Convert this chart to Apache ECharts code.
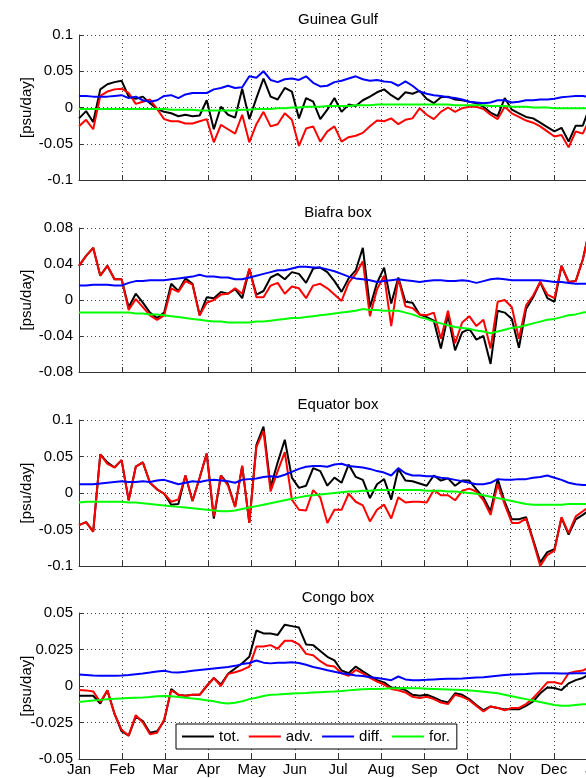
<!DOCTYPE html>
<html>
<head>
<meta charset="utf-8">
<script src="https://cdn.jsdelivr.net/npm/echarts@6/dist/echarts.min.js"></script>
<style>
  html, body { margin: 0; padding: 0; background: #fff; }
  #chart { width: 586px; height: 778px; }
</style>
</head>
<body>
<div id="chart"></div>
<script>
// month labels, x axis in pentads (73 per year)
var months = ['Jan','Feb','Mar','Apr','May','Jun','Jul','Aug','Sep','Oct','Nov','Dec','Jan'];
var boxNames = ['Guinea Gulf', 'Biafra box', 'Equator box', 'Congo box'];
var seriesNames = ['tot.', 'adv.', 'diff.', 'for.'];

// Guinea Gulf
var gulfTot = [-0.015,-0.005,-0.02,0.025,0.032,0.035,0.037,0.015,0.012,0.015,0.006,-0.002,-0.006,-0.008,-0.012,-0.01,-0.012,-0.011,0.01,-0.03,0.001,-0.01,-0.014,0.026,-0.016,0.013,0.04,0.015,0.011,0.027,0.022,-0.015,0.013,0.008,-0.016,-0.003,0.013,-0.006,0.004,0.002,0.01,0.015,0.021,0.025,0.017,0.011,0.021,0.019,0.023,0.012,0.006,0.014,0.015,0.011,0.01,0.008,0.006,0.001,-0.007,-0.012,0.013,-0.003,-0.008,-0.013,-0.015,-0.021,-0.027,-0.033,-0.028,-0.047,-0.025,-0.025,0.002];
var gulfAdv = [-0.026,-0.017,-0.03,0.016,0.022,0.025,0.026,0.02,0.005,0.008,0.011,-0.002,-0.016,-0.019,-0.019,-0.022,-0.022,-0.019,-0.016,-0.048,-0.024,-0.03,-0.036,-0.01,-0.048,-0.023,-0.006,-0.026,-0.023,-0.008,-0.017,-0.053,-0.029,-0.026,-0.047,-0.033,-0.026,-0.047,-0.041,-0.039,-0.035,-0.026,-0.018,-0.019,-0.015,-0.023,-0.017,-0.015,-0.001,-0.01,-0.016,-0.006,0.0,-0.006,-0.001,0.001,0.001,-0.002,-0.01,-0.016,0.001,-0.008,-0.013,-0.018,-0.021,-0.026,-0.033,-0.04,-0.038,-0.055,-0.033,-0.036,-0.015];
var gulfDiff = [0.016,0.016,0.015,0.015,0.015,0.016,0.017,0.013,0.015,0.01,0.008,0.01,0.016,0.017,0.013,0.018,0.02,0.02,0.02,0.025,0.027,0.03,0.027,0.028,0.043,0.041,0.05,0.038,0.035,0.039,0.04,0.038,0.043,0.034,0.029,0.03,0.035,0.037,0.04,0.043,0.039,0.037,0.038,0.036,0.035,0.03,0.036,0.03,0.022,0.019,0.017,0.016,0.014,0.013,0.011,0.008,0.007,0.006,0.007,0.01,0.01,0.007,0.008,0.01,0.01,0.011,0.011,0.012,0.014,0.015,0.016,0.016,0.014];
var gulfFor = [-0.002,-0.002,-0.002,-0.002,-0.002,-0.002,-0.002,-0.002,-0.002,-0.002,-0.002,-0.002,-0.002,-0.003,-0.003,-0.003,-0.003,-0.004,-0.004,-0.004,-0.004,-0.004,-0.004,-0.003,-0.003,-0.002,-0.002,-0.002,-0.001,-0.001,0,0,0.001,0.001,0.001,0.002,0.002,0.002,0.002,0.003,0.003,0.003,0.004,0.004,0.004,0.004,0.004,0.004,0.004,0.004,0.004,0.004,0.004,0.003,0.003,0.003,0.003,0.003,0.002,0.002,0.002,0.001,0.001,0.001,0,0,0,-0.001,-0.001,-0.001,-0.001,-0.001,-0.001];

// Biafra box
var biafraTot = [0.038,0.049,0.058,0.027,0.038,0.023,0.023,-0.008,0.007,-0.003,-0.014,-0.02,-0.014,0.018,0.01,0.024,0.018,-0.017,0.003,0.002,0.009,0.007,0.012,0.002,0.034,0.006,0.01,0.025,0.029,0.023,0.031,0.029,0.019,0.035,0.036,0.031,0.021,0.009,0.024,0.033,0.058,-0.008,0.019,0.036,-0.004,0.025,-0.002,-0.003,-0.016,-0.019,-0.023,-0.054,-0.017,-0.056,-0.036,-0.032,-0.044,-0.04,-0.071,-0.012,-0.014,-0.021,-0.053,-0.01,0.003,0.02,0.002,-0.002,0.038,0.02,0.021,0.045,0.08];
var biafraAdv = [0.038,0.049,0.058,0.027,0.038,0.023,0.023,-0.011,0.001,-0.008,-0.017,-0.022,-0.017,0.013,0.009,0.021,0.017,-0.017,-0.003,0.0,0.006,0.007,0.013,0.007,0.035,0.003,0.003,0.016,0.019,0.007,0.015,0.013,0.002,0.016,0.018,0.013,0.006,-0.001,0.019,0.029,0.043,-0.018,0.012,0.027,-0.029,0.024,-0.007,-0.009,-0.016,-0.017,-0.014,-0.043,-0.012,-0.048,-0.025,-0.018,-0.029,-0.022,-0.054,-0.002,0.0,-0.008,-0.043,-0.006,0.005,0.02,0.006,0.002,0.038,0.02,0.021,0.045,0.08];
var biafraDiff = [0.016,0.016,0.017,0.017,0.017,0.016,0.016,0.019,0.021,0.021,0.022,0.022,0.022,0.023,0.024,0.025,0.026,0.028,0.026,0.026,0.025,0.025,0.023,0.023,0.025,0.027,0.029,0.031,0.033,0.033,0.035,0.037,0.037,0.036,0.036,0.034,0.032,0.029,0.026,0.024,0.023,0.022,0.02,0.021,0.022,0.023,0.022,0.021,0.02,0.021,0.022,0.022,0.021,0.021,0.022,0.021,0.019,0.021,0.023,0.024,0.023,0.022,0.022,0.022,0.022,0.022,0.021,0.02,0.02,0.019,0.018,0.018,0.018];
var biafraFor = [-0.014,-0.014,-0.014,-0.014,-0.014,-0.014,-0.014,-0.014,-0.015,-0.015,-0.016,-0.016,-0.017,-0.018,-0.019,-0.02,-0.021,-0.022,-0.023,-0.024,-0.024,-0.025,-0.025,-0.025,-0.025,-0.024,-0.024,-0.023,-0.022,-0.021,-0.02,-0.02,-0.019,-0.018,-0.017,-0.016,-0.015,-0.014,-0.013,-0.012,-0.01,-0.011,-0.011,-0.012,-0.012,-0.012,-0.014,-0.016,-0.019,-0.021,-0.024,-0.026,-0.028,-0.03,-0.031,-0.032,-0.034,-0.035,-0.037,-0.035,-0.033,-0.031,-0.03,-0.028,-0.026,-0.024,-0.022,-0.021,-0.019,-0.017,-0.016,-0.014,-0.013];

// Equator box
var equatorTot = [-0.044,-0.04,-0.053,0.053,0.042,0.035,0.045,-0.01,0.036,0.042,0.014,0.005,-0.001,-0.016,-0.015,0.024,-0.011,0.021,0.054,-0.035,0.024,0.012,-0.019,0.037,-0.041,0.066,0.091,0.008,0.042,0.073,0.021,0.007,0.01,0.034,0.03,0.01,0.021,0.014,0.039,0.022,0.018,-0.007,0.012,0.019,-0.009,0.033,0.017,0.016,0.013,0.01,0.024,0.017,0.02,0.01,0.017,0.017,0.005,-0.006,-0.025,0.019,-0.012,-0.036,-0.036,-0.033,-0.064,-0.095,-0.081,-0.077,-0.034,-0.057,-0.036,-0.03,-0.023];
var equatorAdv = [-0.044,-0.04,-0.053,0.053,0.04,0.035,0.045,-0.01,0.036,0.042,0.014,0.005,-0.001,-0.012,-0.009,0.024,-0.011,0.021,0.054,-0.032,0.024,0.01,-0.019,0.037,-0.041,0.063,0.085,0.002,0.03,0.056,-0.009,-0.023,-0.024,0.004,-0.006,-0.041,-0.023,-0.023,-0.001,-0.012,-0.017,-0.039,-0.023,-0.016,-0.035,-0.006,-0.013,-0.012,-0.012,-0.013,0.004,-0.003,-0.003,-0.01,0.003,0.006,0.002,-0.01,-0.03,0.012,-0.016,-0.041,-0.041,-0.035,-0.066,-0.1,-0.085,-0.079,-0.033,-0.055,-0.032,-0.025,-0.018];
var equatorDiff = [0.012,0.012,0.012,0.013,0.014,0.015,0.016,0.015,0.015,0.016,0.015,0.017,0.018,0.015,0.012,0.014,0.016,0.015,0.017,0.018,0.017,0.016,0.014,0.018,0.019,0.02,0.022,0.023,0.022,0.025,0.029,0.033,0.036,0.037,0.037,0.036,0.039,0.04,0.037,0.036,0.035,0.033,0.03,0.028,0.024,0.034,0.027,0.024,0.024,0.023,0.023,0.021,0.02,0.018,0.016,0.014,0.012,0.012,0.014,0.019,0.018,0.018,0.019,0.019,0.021,0.022,0.024,0.021,0.018,0.014,0.012,0.011,0.011];
var equatorFor = [-0.013,-0.012,-0.012,-0.012,-0.012,-0.012,-0.012,-0.013,-0.013,-0.014,-0.015,-0.016,-0.017,-0.018,-0.019,-0.02,-0.021,-0.022,-0.023,-0.024,-0.025,-0.025,-0.024,-0.022,-0.02,-0.018,-0.016,-0.014,-0.012,-0.01,-0.008,-0.006,-0.004,-0.003,-0.002,-0.001,0,0.001,0.002,0.002,0.003,0.003,0.004,0.004,0.004,0.004,0.004,0.004,0.004,0.003,0.003,0.003,0.002,0.002,0.001,0,-0.001,-0.003,-0.005,-0.007,-0.009,-0.011,-0.013,-0.015,-0.016,-0.016,-0.016,-0.016,-0.016,-0.015,-0.015,-0.015,-0.015];

// Congo box
var congoTot = [-0.0067,-0.0067,-0.0067,-0.012,-0.003,-0.019,-0.031,-0.034,-0.021,-0.024,-0.032,-0.031,-0.024,-0.002,-0.006,-0.0067,-0.006,-0.006,0.0,0.0055,0.001,0.0083,0.012,0.0156,0.02,0.038,0.036,0.036,0.035,0.042,0.041,0.04,0.0285,0.028,0.024,0.02,0.0175,0.0106,0.0087,0.0133,0.01,0.007,0.004,0.0025,-0.001,-0.0014,-0.0028,-0.006,-0.0067,-0.006,-0.0078,-0.01,-0.0113,-0.005,-0.006,-0.009,-0.013,-0.0166,-0.014,-0.015,-0.016,-0.016,-0.016,-0.0136,-0.0106,-0.005,-0.001,-0.0014,-0.0028,0.0018,0.004,0.0055,0.0083];
var congoAdv = [-0.0028,-0.003,-0.0037,-0.011,-0.003,-0.019,-0.03,-0.034,-0.02,-0.025,-0.033,-0.032,-0.023,-0.003,-0.006,-0.0067,-0.006,-0.006,0.0,0.0055,0.0,0.0083,0.0094,0.011,0.0133,0.027,0.027,0.028,0.0255,0.031,0.031,0.0285,0.022,0.021,0.017,0.014,0.0133,0.0087,0.007,0.011,0.0087,0.0055,0.003,0.001,-0.002,-0.003,-0.0044,-0.0074,-0.0083,-0.0074,-0.009,-0.0113,-0.0124,-0.006,-0.0074,-0.0097,-0.0136,-0.0175,-0.014,-0.015,-0.0166,-0.015,-0.015,-0.0124,-0.0083,-0.003,0.0025,0.0025,0.0014,0.0087,0.01,0.0106,0.013];
var congoDiff = [0.0078,0.0075,0.0072,0.007,0.007,0.007,0.0072,0.0075,0.008,0.0085,0.0092,0.01,0.0105,0.0095,0.0092,0.0098,0.0105,0.011,0.0115,0.012,0.0125,0.013,0.0138,0.015,0.0158,0.0175,0.016,0.0155,0.016,0.016,0.0163,0.0158,0.0145,0.013,0.012,0.0108,0.0098,0.0088,0.008,0.0072,0.0068,0.006,0.0055,0.0048,0.004,0.0065,0.0045,0.004,0.004,0.0042,0.0045,0.0048,0.005,0.005,0.0052,0.0055,0.0058,0.006,0.0065,0.007,0.0075,0.0078,0.008,0.0082,0.0085,0.0087,0.0087,0.0087,0.0086,0.0086,0.0087,0.0087,0.0087];
var congoFor = [-0.011,-0.0105,-0.01,-0.0095,-0.009,-0.0088,-0.0085,-0.0082,-0.008,-0.0078,-0.0075,-0.007,-0.0068,-0.007,-0.0075,-0.008,-0.0085,-0.009,-0.0098,-0.0105,-0.0115,-0.012,-0.0115,-0.0105,-0.009,-0.008,-0.0068,-0.006,-0.0058,-0.0055,-0.0052,-0.005,-0.0048,-0.0045,-0.0042,-0.004,-0.0038,-0.0035,-0.003,-0.0025,-0.0022,-0.002,-0.002,-0.0018,-0.0016,-0.0015,-0.0014,-0.0015,-0.0016,-0.0018,-0.002,-0.0022,-0.0024,-0.0026,-0.0028,-0.003,-0.0035,-0.004,-0.0045,-0.005,-0.006,-0.007,-0.008,-0.009,-0.01,-0.011,-0.012,-0.013,-0.0135,-0.0136,-0.013,-0.0125,-0.0124];

// y axis ranges per box
var yMins = [-0.1, -0.08, -0.1, -0.05];
var yMaxs = [0.1, 0.08, 0.1, 0.05];
var yIntervals = [0.05, 0.04, 0.05, 0.025];

var boxData = [
  [gulfTot, gulfAdv, gulfDiff, gulfFor],
  [biafraTot, biafraAdv, biafraDiff, biafraFor],
  [equatorTot, equatorAdv, equatorDiff, equatorFor],
  [congoTot, congoAdv, congoDiff, congoFor]
];
var colors = ['#000000', '#ff0000', '#0000ff', '#00ff00'];

var gridTops = [35, 228, 420, 613];
var gridHeights = [145, 144, 146, 146];
var titleTops = [7, 200, 392, 585];

var fontFam = '"Liberation Sans", Arial, sans-serif';
var pentadsPerMonth = 73 / 12;

var myChart = echarts.init(document.getElementById('chart'));

var grids = [], xAxes = [], yAxes = [], series = [], titles = [];
for (var b = 0; b < 4; b++) {
  // the plot runs past the right edge of the picture (it is cut at late Dec)
  grids.push({ left: 79, top: gridTops[b], width: 518, height: gridHeights[b], outerBoundsMode: 'none', containLabel: false });
  titles.push({
    text: boxNames[b], left: 333, top: titleTops[b], textAlign: 'center',
    textStyle: { fontFamily: fontFam, fontSize: 15, fontWeight: 'normal', color: '#000' }
  });
  xAxes.push({
    type: 'value', gridIndex: b, min: 0, max: 73, interval: pentadsPerMonth,
    axisLine: { onZero: false, lineStyle: { color: '#333', width: 1 } },
    axisTick: { inside: true, length: 5, lineStyle: { color: '#333' } },
    splitLine: { show: true, lineStyle: { color: '#444', type: [1, 3], width: 1 } },
    axisLabel: {
      show: b === 3, margin: 3, color: '#000', fontFamily: fontFam, fontSize: 15,
      formatter: function (v) { return months[Math.round(v / pentadsPerMonth)] || ''; }
    }
  });
  yAxes.push({
    type: 'value', gridIndex: b, min: yMins[b], max: yMaxs[b], interval: yIntervals[b],
    name: '[psu/day]', nameLocation: 'middle', nameGap: 45, nameMoveOverlap: false,
    nameTextStyle: { fontFamily: fontFam, fontSize: 15, color: '#000' },
    axisLine: { show: true, lineStyle: { color: '#333', width: 1 } },
    axisTick: { show: true, inside: true, length: 4, lineStyle: { color: '#333' } },
    splitLine: { show: true, lineStyle: { color: '#444', type: [1, 3], width: 1 } },
    axisLabel: {
      margin: 6, color: '#000', fontFamily: fontFam, fontSize: 15,
      formatter: function (v) {
        var s = parseFloat(v.toFixed(4));
        return s === 0 ? '0' : String(s);
      }
    }
  });
  for (var s = 0; s < 4; s++) {
    series.push({
      name: seriesNames[s], type: 'line', xAxisIndex: b, yAxisIndex: b,
      showSymbol: false, symbol: 'none', animation: false,
      lineStyle: { color: colors[s], width: 2 },
      itemStyle: { color: colors[s] },
      data: boxData[b][s].map(function (v, i) { return [i, v]; })
    });
  }
}

option = {
  backgroundColor: '#fff',
  animation: false,
  title: titles,
  grid: grids,
  xAxis: xAxes,
  yAxis: yAxes,
  legend: {
    data: seriesNames.map(function (n) { return { name: n, icon: 'rect' }; }),
    left: 176, top: 724,
    itemWidth: 32, itemHeight: 2, itemGap: 9,
    padding: [5, 7, 5, 6],
    backgroundColor: '#fff', borderColor: '#000', borderWidth: 1,
    textStyle: { fontFamily: fontFam, fontSize: 15, color: '#000', padding: [0, 0, 0, 0] }
  },
  series: series
};

myChart.setOption(option);
</script>
</body>
</html>
